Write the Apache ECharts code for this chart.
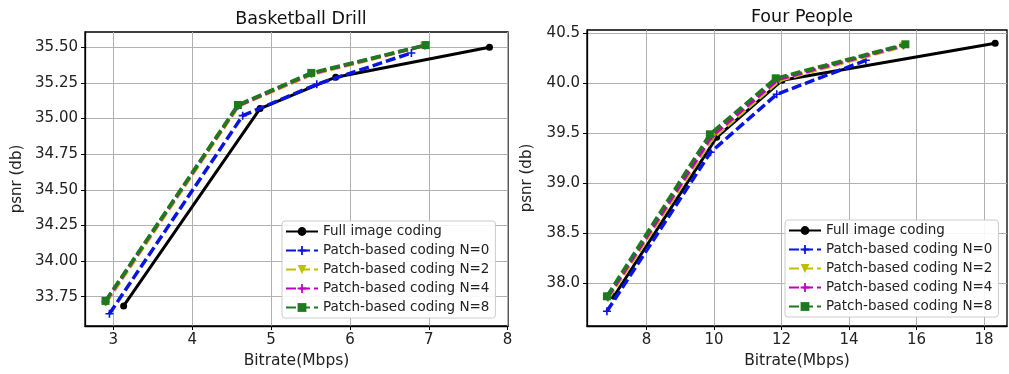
<!DOCTYPE html>
<html>
<head>
<meta charset="utf-8">
<script src="https://cdn.jsdelivr.net/npm/echarts@6/dist/echarts.min.js"></script>
<style>
  html, body { margin: 0; padding: 0; background: #fff; }
  #chart { width: 1009px; height: 374px; }
</style>
</head>
<body>
<div id="chart"></div>
<script>
const seriesNames = [
  "Full image coding",
  "Patch-based coding N=0",
  "Patch-based coding N=2",
  "Patch-based coding N=4",
  "Patch-based coding N=8"
];

// Basketball Drill : [bitrate, psnr]
const bdFull = [[3.13, 33.685], [4.86, 35.07], [5.82, 35.29], [7.77, 35.50]];
const bdN0 = [[2.95, 33.63], [4.64, 35.02], [5.58, 35.24], [6.78, 35.46]];
const bdN2 = [[2.91, 33.71], [4.59, 35.09], [5.52, 35.31], [6.94, 35.51]];
const bdN4 = [[2.90, 33.715], [4.58, 35.09], [5.51, 35.315], [6.95, 35.513]];
const bdN8 = [[2.90, 33.72], [4.58, 35.095], [5.51, 35.32], [6.96, 35.515]];
const bdXTicks = [3, 4, 5, 6, 7, 8];
const bdYTicks = [33.75, 34.0, 34.25, 34.5, 34.75, 35.0, 35.25, 35.5];

// Four People
const fpFull = [[7.04, 37.87], [10.08, 39.46], [12.02, 40.03], [18.33, 40.40]];
const fpN0 = [[6.83, 37.72], [9.90, 39.31], [11.86, 39.89], [14.50, 40.23]];
const fpN2 = [[6.87, 37.85], [9.96, 39.45], [11.95, 40.03], [15.60, 40.37]];
const fpN4 = [[6.85, 37.86], [9.93, 39.47], [11.90, 40.04], [15.62, 40.38]];
const fpN8 = [[6.83, 37.87], [9.88, 39.49], [11.83, 40.05], [15.67, 40.39]];
const fpXTicks = [8, 10, 12, 14, 16, 18];
const fpYTicks = [38.0, 38.5, 39.0, 39.5, 40.0, 40.5];

const font = "DejaVu Sans";
const plusPath = "path://M4,0H6V4H10V6H6V10H4V6H0V4H4Z";

const styles = [
  { color: "#000000", type: "solid", symbol: "circle", size: 7 },
  { color: "#0a14e0", type: [10, 4], symbol: plusPath, size: 8 },
  { color: "#bfbf00", type: [10, 4], symbol: "triangle", size: 8, rotate: 180 },
  { color: "#bf00bf", type: [10, 4], symbol: plusPath, size: 8 },
  { color: "#1e7a1e", type: [10, 4], symbol: "rect", size: 8 }
];

function makeSeries(dataList, gridIdx) {
  return dataList.map((d, i) => ({
    name: seriesNames[i],
    type: "line",
    xAxisIndex: gridIdx,
    yAxisIndex: gridIdx,
    data: d,
    symbol: styles[i].symbol,
    symbolSize: styles[i].size,
    symbolRotate: styles[i].rotate || 0,
    showAllSymbol: true,
    itemStyle: { color: styles[i].color },
    lineStyle: { color: styles[i].color, width: i === 0 ? 3 : 3.5, type: styles[i].type },
    z: 3 + i,
    animation: false
  }));
}

function xAxisOf(gridIdx, min, max, ticks) {
  return {
    type: "value",
    gridIndex: gridIdx,
    min: min,
    max: max,
    name: "Bitrate(Mbps)",
    nameLocation: "middle",
    nameGap: 25,
    nameTextStyle: { fontSize: 15.5, color: "#222", fontFamily: font },
    axisLine: { show: true, onZero: false, lineStyle: { color: "#000", width: 1.3 } },
    axisTick: { show: true, length: 4, lineStyle: { color: "#000" }, customValues: ticks },
    axisLabel: {
      customValues: ticks,
      fontSize: 15,
      color: "#222",
      fontFamily: font,
      margin: 7,
      formatter: v => String(v)
    },
    splitLine: { show: true, lineStyle: { color: "#b0b0b0", width: 1 } }
  };
}

function yAxisOf(gridIdx, min, max, ticks, digits, gap) {
  return {
    type: "value",
    gridIndex: gridIdx,
    min: min,
    max: max,
    name: "psnr (db)",
    nameLocation: "middle",
    nameGap: gap,
    nameTextStyle: { fontSize: 15, color: "#222", fontFamily: font },
    axisLine: { show: true, onZero: false, lineStyle: { color: "#000", width: 1.3 } },
    axisTick: { show: true, length: 4, lineStyle: { color: "#000" }, customValues: ticks },
    axisLabel: {
      customValues: ticks,
      fontSize: 15,
      color: "#222",
      fontFamily: font,
      margin: 7,
      formatter: v => v.toFixed(digits)
    },
    splitLine: { show: true, lineStyle: { color: "#b0b0b0", width: 1 } }
  };
}

function legendOf(left, top) {
  return {
    orient: "vertical",
    left: left,
    top: top,
    data: seriesNames,
    itemWidth: 32,
    itemHeight: 11,
    itemGap: 4,
    padding: [3, 6, 3, 3],
    backgroundColor: "rgba(255,255,255,0.9)",
    borderColor: "#cccccc",
    borderWidth: 1,
    borderRadius: 3,
    selectedMode: false,
    textStyle: { fontSize: 13.5, lineHeight: 15, color: "#222", fontFamily: font }
  };
}

const chartInstance = echarts.init(document.getElementById("chart"), null, { renderer: "canvas" });

const initOption = {
  backgroundColor: "#fff",
  animation: false,
  title: [
    {
      text: "Basketball Drill",
      left: 296,
      top: 5,
      textAlign: "center",
      textStyle: { fontSize: 17.5, fontWeight: "normal", color: "#111", fontFamily: font }
    },
    {
      text: "Four People",
      left: 797,
      top: 3,
      textAlign: "center",
      textStyle: { fontSize: 17.5, fontWeight: "normal", color: "#111", fontFamily: font }
    }
  ],
  grid: [
    { left: 85, top: 32, width: 423, height: 294, show: true, borderColor: "#000", borderWidth: 1.3, backgroundColor: "#fff" },
    { left: 587, top: 30, width: 420, height: 296, show: true, borderColor: "#000", borderWidth: 1.3, backgroundColor: "#fff" }
  ],
  xAxis: [
    xAxisOf(0, 2.64, 8.005, bdXTicks),
    xAxisOf(1, 6.24, 18.68, fpXTicks)
  ],
  yAxis: [
    yAxisOf(0, 33.544, 35.607, bdYTicks, 2, 60),
    yAxisOf(1, 37.573, 40.533, fpYTicks, 1, 52)
  ],
  legend: [legendOf(282, 221), legendOf(785, 220)],
  series: [
    ...makeSeries([bdFull, bdN0, bdN2, bdN4, bdN8], 0),
    ...makeSeries([fpFull, fpN0, fpN2, fpN4, fpN8], 1)
  ]
};

chartInstance.setOption(initOption);
</script>
</body>
</html>
